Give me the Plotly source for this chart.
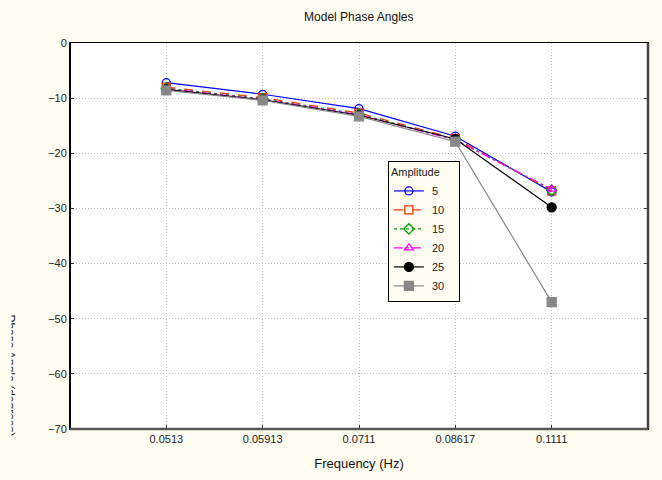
import plotly.graph_objects as go

frequencies = ["0.0513", "0.05913", "0.0711", "0.08617", "0.1111"]
amp_5 = [-7.2, -9.3, -11.9, -16.9, -27.0]
amp_10 = [-8.0, -9.9, -12.7, -17.3, -26.8]
amp_15 = [-8.2, -10.1, -12.9, -17.5, -26.7]
amp_20 = [-8.3, -10.2, -13.0, -17.6, -26.5]
amp_25 = [-8.4, -10.3, -13.1, -17.4, -29.8]
amp_30 = [-8.6, -10.4, -13.3, -17.9, -47.0]
y_ticks = [0, -10, -20, -30, -40, -50, -60, -70]

series = [
    ("5", amp_5, "#0000FF", "solid", "circle-open", 8),
    ("10", amp_10, "#FF3300", "dash", "square-open", 8),
    ("15", amp_15, "#009900", "dot", "diamond-open", 8),
    ("20", amp_20, "#FF00FF", "dashdot", "triangle-up-open", 8),
    ("25", amp_25, "#000000", "solid", "circle", 9),
    ("30", amp_30, "#888888", "solid", "square", 9),
]

cream = "#FFFCF2"
fig = go.Figure()
for name, vals, color, dash, sym, size in series:
    fig.add_trace(go.Scatter(
        x=frequencies, y=vals, name="\u00a0" + name + "\u00a0\u00a0\u00a0",
        mode="lines+markers",
        line=dict(color=color, width=1.2, dash=dash),
        marker=dict(symbol=sym, size=size, color=color,
                    line=dict(color=color, width=1.3)),
    ))

fig.update_layout(
    width=662, height=480,
    paper_bgcolor=cream, plot_bgcolor="white",
    margin=dict(l=70, r=14, t=43, b=48),
    font=dict(family="Liberation Sans, Arial, sans-serif", size=11, color="#222"),
    title=dict(text="Model Phase Angles", x=0.542, xanchor="center",
               y=0.964, yanchor="middle", font=dict(size=12, color="#111")),
    showlegend=True,
    legend=dict(x=0.55, y=0.694, xanchor="left", yanchor="top",
                bgcolor=cream, bordercolor="black", borderwidth=1,
                title=dict(text="Amplitude", font=dict(size=11)),
                font=dict(size=11), itemwidth=30, tracegroupgap=0),
)
fig.update_xaxes(
    type="category", range=[-1, 5], tickvals=frequencies,
    showgrid=True, gridcolor="#C4C4C4", griddash="1px,2px", gridwidth=1,
    ticks="inside", ticklen=4, tickcolor="#333",
    showline=True, linecolor="black", linewidth=1, mirror=True,
    title=dict(text="Frequency (Hz)", font=dict(size=13, color="#111"), standoff=14),
    zeroline=False,
)
fig.update_yaxes(
    range=[-70, 0], tickvals=y_ticks,
    showgrid=True, gridcolor="#C4C4C4", griddash="1px,2px", gridwidth=1,
    ticks="inside", ticklen=4, tickcolor="#333",
    showline=True, linecolor="black", linewidth=1, mirror="ticks",
    zeroline=False,
)
# Thicker frame edges
fig.add_shape(type="line", xref="paper", yref="paper", x0=0, x1=0, y0=0, y1=1,
              line=dict(color="black", width=2))
fig.add_shape(type="line", xref="paper", yref="paper", x0=0, x1=1, y0=0, y1=0,
              line=dict(color="#555555", width=2.5))
fig.add_shape(type="line", xref="paper", yref="paper", x0=1, x1=1, y0=0, y1=1,
              line=dict(color="#444444", width=2.5))

# Partially clipped y-axis title
fig.add_annotation(text="Phase Angle (degrees)", textangle=90, xref="paper", yref="paper",
                   x=(10 - 70) / 578, y=1 - (378 - 43) / 389, xanchor="center", yanchor="middle",
                   showarrow=False, font=dict(size=12, color="#111"))
fig.add_annotation(text=" ", xref="paper", yref="paper",
                   x=(0 - 70) / 578, y=1 - (378 - 43) / 389, xanchor="left", yanchor="middle",
                   showarrow=False, bgcolor=cream, width=10, height=170, borderpad=0,
                   font=dict(size=12))

fig.write_html("out.html", config={"displayModeBar": False},
               post_script="document.body.style.margin='0';document.body.style.background='#FFFCF2';")
